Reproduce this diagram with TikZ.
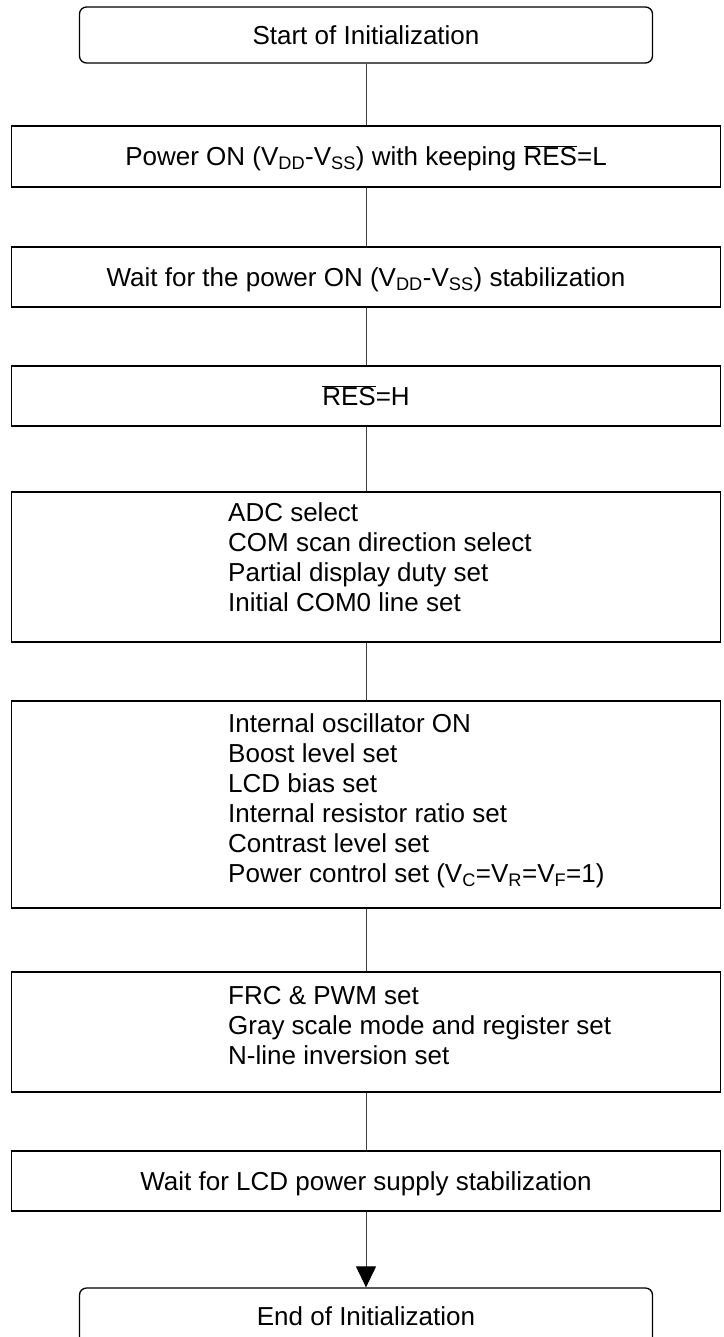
\documentclass[tikz,border=0pt]{standalone}
\usepackage{fontspec}
\setmainfont{Liberation Sans}
\usepackage{xcolor}
\usetikzlibrary{arrows.meta}
\definecolor{ink}{HTML}{000000}
\definecolor{wire}{HTML}{404040}
\tikzset{
  box/.style={draw=ink, line width=1.3pt, minimum width=709pt, inner sep=0pt,
    font=\fontsize{26}{30}\selectfont, text height=18.6pt, text depth=0pt},
  term/.style={box, rounded corners=7pt, minimum width=573pt, minimum height=56pt},
  proc/.style={box, minimum height=60pt},
  flow/.style={draw=wire, line width=1pt},
  lab/.style={font=\fontsize{26}{30}\selectfont, align=left, inner sep=0pt, anchor=base west},
}
\newcommand{\notsig}[1]{$\overline{\mbox{#1}}$}

\begin{document}
\begin{tikzpicture}[x=1pt,y=-1pt]
  \useasboundingbox (0,0) rectangle (723,1337);
  \node[term] (start) at (366,35) {Start of Initialization};
  \node[proc,minimum height=61pt] (power) at (366,156.5)
    {Power ON (V\textsubscript{DD}-V\textsubscript{SS}) with keeping \notsig{RES}=L};
  \node[proc] (wait1) at (366,277)
    {Wait for the power ON (V\textsubscript{DD}-V\textsubscript{SS}) stabilization};
  \node[proc] (res) at (366,396) {\notsig{RES}=H};
  \node[proc,minimum height=150pt] (adc) at (366,567) {};
  \node[lab] (adct) at (228,611.7) {ADC select\\COM scan direction select\\
    Partial display duty set\\Initial COM0 line set};
  \node[proc,minimum height=207pt] (osc) at (366,804.5) {};
  \node[lab] (osct) at (228,882.3) {Internal oscillator ON\\Boost level set\\LCD bias set\\
    Internal resistor ratio set\\Contrast level set\\
    Power control set (V\textsubscript{C}=V\textsubscript{R}=V\textsubscript{F}=1)};
  \node[proc,minimum height=120pt] (frc) at (366,1032) {};
  \node[lab] (frct) at (228,1064.3) {FRC \& PWM set\\Gray scale mode and register set\\
    N-line inversion set};
  \node[proc] (wait2) at (366,1181) {Wait for LCD power supply stabilization};
  \node[term] (end) at (366,1316) {End of Initialization};
  \draw[flow] (start.south) -- (power.north);
  \draw[flow] (power.south) -- (wait1.north);
  \draw[flow] (wait1.south) -- (res.north);
  \draw[flow] (res.south) -- (adc.north);
  \draw[flow] (adc.south) -- (osc.north);
  \draw[flow] (osc.south) -- (frc.north);
  \draw[flow] (frc.south) -- (wait2.north);
  \draw[flow,-{Triangle[width=20pt,length=21pt,color=ink,fill=ink]}] (wait2.south) -- (end.north);
\end{tikzpicture}
\end{document}
